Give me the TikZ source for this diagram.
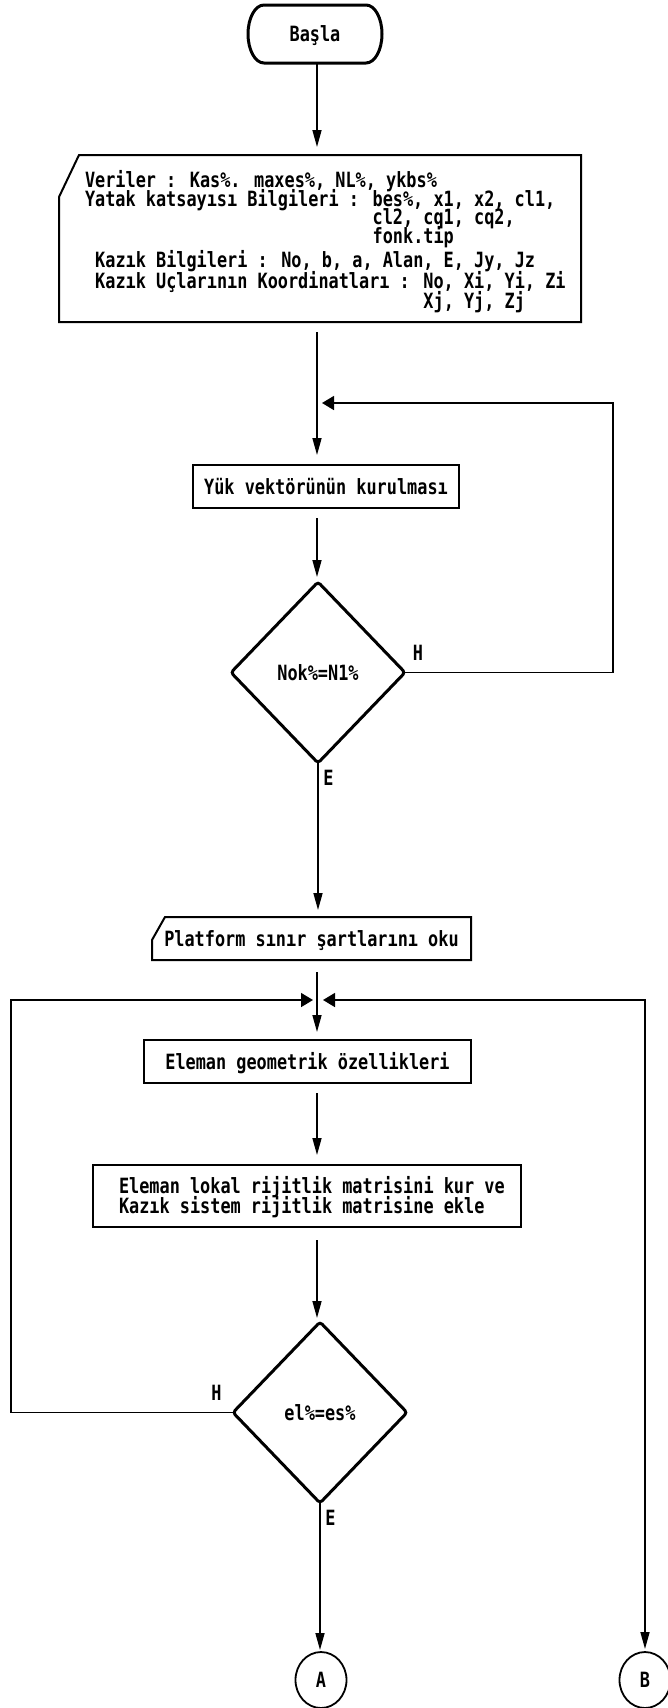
\documentclass[tikz,border=0pt]{standalone}
\usepackage{fontspec}
\newfontfamily\dm[FakeStretch=0.803]{DejaVu Sans Mono}
\usetikzlibrary{arrows.meta,calc,shapes.geometric}
\tikzset{
  every node/.style={font=\dm\bfseries\fontsize{21}{20}\selectfont, inner sep=0pt, outer sep=0pt},
  ln/.style={line width=1.6pt},
  varr/.style={ln, -{Triangle[length=17pt,width=9pt]}},
  harr/.style={ln, -{Triangle[length=12pt,width=14pt]}},
  plainbox/.style={minimum height=43pt, text height=15.5pt, text depth=0pt},
  boxst/.style={plainbox, draw, line width=2pt},
  outline/.style={line width=2pt, line join=miter},
  dec/.style={diamond, draw, line width=3pt, minimum width=174pt, minimum height=181pt,
              text height=15.5pt, text depth=0pt, rounded corners=3pt},
  conn/.style={ellipse, draw, line width=1.8pt, minimum width=51pt, minimum height=56pt,
              text height=15.5pt, text depth=0pt},
  lbl/.style={anchor=base},
  txt/.style={anchor=base west}
}
\begin{document}
\begin{tikzpicture}[x=1pt,y=-1pt]
\fill[white] (0,0) rectangle (667,1708);
\useasboundingbox (0,0) rectangle (667,1708);

% coordinates for the main line and loop corners
\coordinate (mx) at (317,0);
\coordinate (j1) at (322,403);
\coordinate (r1) at (613,403);
\coordinate (l2) at (11,1000);
\coordinate (j2l) at (313,1000);
\coordinate (j2r) at (323,1000);
\coordinate (r2) at (645,1000);

% start terminal
\node[minimum width=134pt, minimum height=58pt, text height=15.5pt, text depth=0pt] (start) at (315,34) {Başla};
\draw[line width=3pt] ($(start.north west)+(16,0)$) -- ($(start.north east)+(-16,0)$)
  arc[start angle=90, end angle=-90, x radius=16pt, y radius=29pt]
  -- ($(start.south west)+(16,0)$)
  arc[start angle=270, end angle=90, x radius=16pt, y radius=29pt] -- cycle;

% data input box
\node[minimum width=522pt, minimum height=167pt] (data) at (320,238.5) {};
\draw[outline] ($(data.north west)+(20,0)$) -- (data.north east) -- (data.south east)
  -- (data.south west) -- ($(data.north west)+(0,42)$) -- cycle;
\node[txt] (v1) at (85,187.5) {Veriler : Kas\%. maxes\%, NL\%, ykbs\%};
\node[txt] (v2) at (85,206) {Yatak katsayısı Bilgileri : bes\%, x1, x2, cl1,};
\node[txt] (v3) at (85,224) {\phantom{Yatak katsayısı Bilgileri : }cl2, cq1, cq2,};
\node[txt] (v4) at (85,243) {\phantom{Yatak katsayısı Bilgileri : }fonk.tip};
\node[txt] (v5) at (95.2,267.5) {Kazık Bilgileri : No, b, a, Alan, E, Jy, Jz};
\node[txt] (v6) at (95.2,288) {Kazık Uçlarının Koordinatları : No, Xi, Yi, Zi};
\node[txt] (v7) at (95.2,308.5) {\phantom{Kazık Uçlarının Koordinatları : }Xj, Yj, Zj};

% load vector
\node[boxst, minimum width=266pt] (yuk) at (326,486.5) {Yük vektörünün kurulması};

% decision 1
\node[dec] (d1) at (318,672.5) {Nok\%=N1\%};
\node[lbl] (h1) at (418,660) {H};
\node[lbl] (e1) at (328.5,785) {E};

% platform input
\node[plainbox, minimum width=319pt] (plat) at (311.5,938.5) {Platform sınır şartlarını oku};
\draw[outline] ($(plat.north west)+(13,0)$) -- (plat.north east) -- (plat.south east)
  -- (plat.south west) -- ($(plat.north west)+(0,23)$) -- cycle;

% element geometry
\node[boxst, minimum width=327pt] (geo) at (307.5,1061.5) {Eleman geometrik özellikleri};

% stiffness matrix
\node[draw, line width=2pt, minimum width=428pt, minimum height=62pt] (mat) at (307,1196) {};
\node[txt] (m1) at (119,1193) {Eleman lokal rijitlik matrisini kur ve};
\node[txt] (m2) at (119,1213) {Kazık sistem rijitlik matrisine ekle};

% decision 2
\node[dec] (d2) at (320,1412.5) {el\%=es\%};
\node[lbl] (h2) at (216.5,1400) {H};
\node[lbl] (e2) at (330.5,1525) {E};

% connectors
\node[conn] (A) at (321,1680) {A};
\node[conn] (B) at (645,1680) {B};

% flow lines
\draw[varr, shorten >=8pt] (mx |- start.south) -- (mx |- data.north);
\draw[varr, shorten <=10pt, shorten >=10pt] (mx |- data.south) -- (mx |- yuk.north);
\draw[varr, shorten <=10pt, shorten >=5pt] (mx |- yuk.south) -- (mx |- d1.north);
\draw[varr, shorten >=7pt] (d1.south) -- (d1.south |- plat.north);
\draw[varr, shorten <=12pt, shorten >=8pt] (mx |- plat.south) -- (mx |- geo.north);
\draw[varr, shorten <=10pt, shorten >=10pt] (mx |- geo.south) -- (mx |- mat.north);
\draw[varr, shorten <=13pt, shorten >=4pt] (mx |- mat.south) -- (mx |- d2.north);
\draw[varr, shorten >=2pt] (d2.south) -- (d2.south |- A.north);
\draw[harr] (d1.east) -| (r1) -- (j1);
\draw[harr] (d2.west) -| (l2) -- (j2l);
\draw[ln, {Triangle[length=12pt,width=14pt]}-{Triangle[length=17pt,width=9pt]}, shorten >=3pt]
  (j2r) -- (r2) -- (r2 |- B.north);
\end{tikzpicture}
\end{document}
